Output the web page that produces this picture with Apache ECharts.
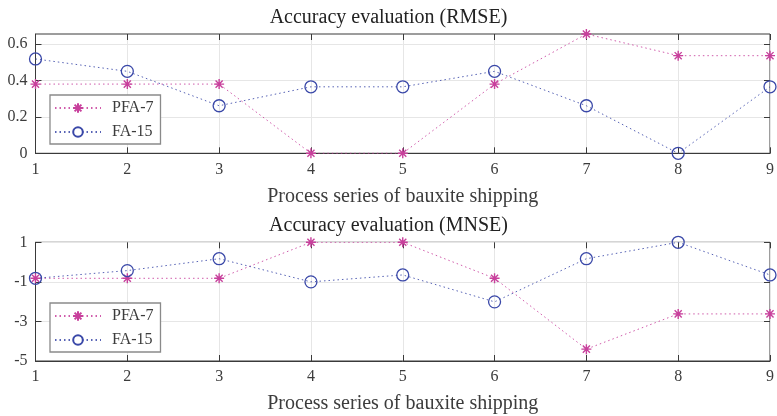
<!DOCTYPE html>
<html>
<head>
<meta charset="utf-8">
<script src="https://cdn.jsdelivr.net/npm/echarts@6/dist/echarts.min.js"></script>
<style>html,body{margin:0;padding:0;background:#fff}#c{width:777px;height:416px}</style>
</head>
<body>
<div id="c"></div>
<script>
const xValues = [1, 2, 3, 4, 5, 6, 7, 8, 9];
const seriesNames = ['PFA-7', 'FA-15'];
const rmsePFA7 = [0.38, 0.38, 0.38, 0, 0, 0.38, 0.655, 0.536, 0.536];
const rmseFA15 = [0.518, 0.45, 0.261, 0.365, 0.365, 0.45, 0.261, 0, 0.365];
const mnsePFA7 = [-0.82, -0.82, -0.82, 1, 1, -0.82, -4.4, -2.62, -2.62];
const mnseFA15 = [-0.82, -0.43, 0.17, -1.0, -0.65, -2.01, 0.17, 1, -0.65];
const rmseTicks = [0, 0.2, 0.4, 0.6];
const mnseTicks = [-5, -3, -1, 1];
const titles = ['Accuracy evaluation (RMSE)', 'Accuracy evaluation (MNSE)'];
const xName = 'Process series of bauxite shipping';

const FONT = 'Liberation Serif';
const MAG = '#c8409c';
const BLUE = '#3a48a8';
const FRAME = '#3a3a3a';
const TXT = '#3c3c3c';
const ASTER = 'path://M0,-1L0,1M-1,0L1,0M-0.71,-0.71L0.71,0.71M-0.71,0.71L0.71,-0.71';

const pair = ys => xValues.map((x, i) => [x, ys[i]]);

const grids = [
  {left: 35.5, right: 1.5, top: 34, height: 119.3, show: true, borderColor: FRAME, borderWidth: 1, backgroundColor: '#fff'},
  {left: 35.5, right: 1.5, top: 242.3, height: 118.7, show: true, borderColor: FRAME, borderWidth: 1, backgroundColor: '#fff'}
];

function mainX(gi) {
  return {
    type: 'value', gridIndex: gi, min: 1, max: 9, interval: 1,
    name: xName, nameLocation: 'middle', nameGap: 33,
    nameTextStyle: {fontFamily: FONT, fontSize: 20, color: TXT},
    axisLine: {show: true, onZero: false, lineStyle: {color: FRAME, width: 1}},
    axisTick: {show: true, inside: true, length: 6, lineStyle: {color: FRAME}},
    axisLabel: {fontFamily: FONT, fontSize: 16, color: TXT, margin: 8},
    splitLine: {show: true, lineStyle: {color: '#e6e6e6', width: 1}}
  };
}
function mirrorX(gi) {
  return {
    type: 'value', gridIndex: gi, min: 1, max: 9, interval: 1, position: 'top',
    axisLine: {show: false, onZero: false}, axisLabel: {show: false}, splitLine: {show: false},
    axisTick: {show: true, inside: true, length: 6, lineStyle: {color: FRAME}}
  };
}
function mainY(gi, mn, mx, ticks) {
  return {
    type: 'value', gridIndex: gi, min: mn, max: mx,
    axisLine: {show: true, onZero: false, lineStyle: {color: FRAME, width: 1}},
    axisTick: {show: true, inside: true, length: 6, customValues: ticks, lineStyle: {color: FRAME}},
    axisLabel: {fontFamily: FONT, fontSize: 16, color: TXT, margin: 8, customValues: ticks},
    splitLine: {show: true, lineStyle: {color: '#e6e6e6', width: 1}}
  };
}
function mirrorY(gi, mn, mx, ticks) {
  return {
    type: 'value', gridIndex: gi, min: mn, max: mx, position: 'right',
    axisLine: {show: false, onZero: false}, axisLabel: {show: false}, splitLine: {show: false},
    axisTick: {show: true, inside: true, length: 6, customValues: ticks, lineStyle: {color: FRAME}}
  };
}

function pfaSeries(xi, yi, ys) {
  return {
    name: seriesNames[0], type: 'line', xAxisIndex: xi, yAxisIndex: yi, data: pair(ys),
    symbol: ASTER, symbolSize: 10, showAllSymbol: true,
    itemStyle: {color: MAG, borderColor: MAG, borderWidth: 1.4},
    lineStyle: {color: MAG, width: 1, type: [1.5, 3], opacity: 0.85},
    emphasis: {disabled: true}, z: 3
  };
}
function faSeries(xi, yi, ys) {
  return {
    name: seriesNames[1], type: 'line', xAxisIndex: xi, yAxisIndex: yi, data: pair(ys),
    symbol: 'circle', symbolSize: 12, showAllSymbol: true,
    itemStyle: {color: 'rgba(255,255,255,0)', borderColor: BLUE, borderWidth: 1.3},
    lineStyle: {color: BLUE, width: 1, type: [1.5, 3], opacity: 0.85},
    emphasis: {disabled: true}, z: 3
  };
}

function legend(top) {
  return {
    data: [{name: seriesNames[0]}, {name: seriesNames[1], itemStyle: {color: '#fff'}}],
    orient: 'vertical', left: 50, top: top,
    itemWidth: 46, itemHeight: 12, itemGap: 8,
    padding: [5, 7, 4, 4],
    borderColor: '#8a8a8a', borderWidth: 1.3, backgroundColor: '#fff',
    textStyle: {fontFamily: FONT, fontSize: 16, color: TXT, padding: [0, 0, 0, 6]}
  };
}

const option = {
  animation: false,
  backgroundColor: '#fff',
  title: [
    {text: titles[0], left: 'center', top: 3, textStyle: {fontFamily: FONT, fontSize: 20, fontWeight: 'normal', color: '#222'}},
    {text: titles[1], left: 'center', top: 211, textStyle: {fontFamily: FONT, fontSize: 20, fontWeight: 'normal', color: '#222'}}
  ],
  legend: [legend(95), legend(303)],
  grid: grids,
  xAxis: [mainX(0), mainX(1), mirrorX(0), mirrorX(1)],
  yAxis: [mainY(0, 0, 0.655, rmseTicks), mainY(1, -5, 1, mnseTicks), mirrorY(0, 0, 0.655, rmseTicks), mirrorY(1, -5, 1, mnseTicks)],
  series: [
    pfaSeries(0, 0, rmsePFA7), faSeries(0, 0, rmseFA15),
    pfaSeries(1, 1, mnsePFA7), faSeries(1, 1, mnseFA15)
  ]
};
const chart = echarts.init(document.getElementById('c'), null, {renderer: 'canvas'});
chart.setOption(option);
</script>
</body>
</html>
